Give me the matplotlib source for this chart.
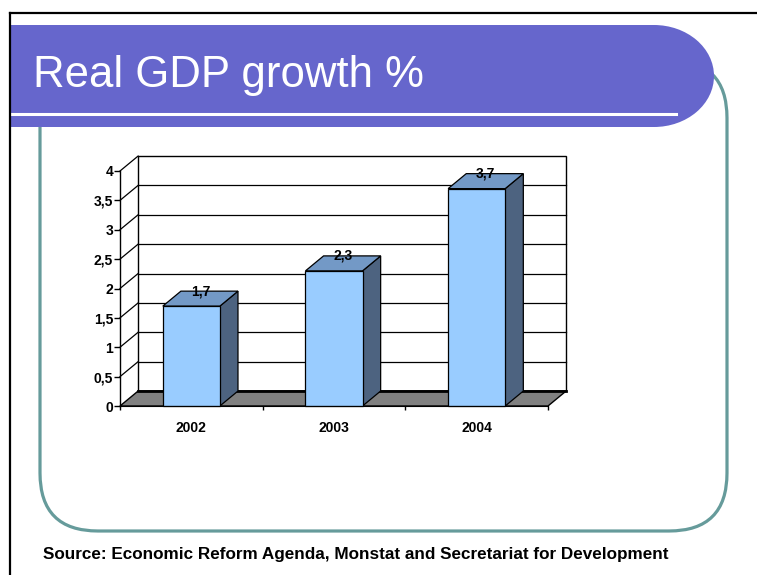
import matplotlib
matplotlib.use("Agg")
import matplotlib.pyplot as plt
from matplotlib.patches import Rectangle, Ellipse, FancyBboxPatch, Polygon

# data
years = ["2002", "2003", "2004"]
growth = [1.7, 2.3, 3.7]
value_labels = ["1,7", "2,3", "3,7"]
y_ticks = [0, 0.5, 1, 1.5, 2, 2.5, 3, 3.5, 4]
y_tick_labels = ["0", "0,5", "1", "1,5", "2", "2,5", "3", "3,5", "4"]

title = "Real GDP growth %"
source = "Source: Economic Reform Agenda, Monstat and Secretariat for Development"

plt.rcParams["font.family"] = ["Liberation Sans", "DejaVu Sans"]

fig = plt.figure(figsize=(7.57, 5.75), dpi=100)

# slide background, in pixel units
bg = fig.add_axes([0, 0, 1, 1])
bg.set_xlim(0, 757)
bg.set_ylim(575, 0)
bg.axis("off")

teal = "#669B9B"
purple = "#6666CC"

frame = FancyBboxPatch((40, 60), 687, 471, boxstyle="round,pad=0,rounding_size=58",
                       facecolor="white", edgecolor=teal, linewidth=2.3)
bg.add_patch(frame)
bg.add_patch(Rectangle((10, 25), 645, 102, facecolor=purple, edgecolor="none"))
bg.add_patch(Ellipse((654, 76), 120, 102, facecolor=purple, edgecolor="none"))
bg.plot([10, 676], [114, 114], color="white", lw=2.2)
bg.plot([10, 757], [13, 13], color="black", lw=1.6)
bg.plot([10, 10], [13, 575], color="black", lw=1.6)

bg.text(33, 87, title, color="white", fontsize=31.5, va="baseline", ha="left")
bg.text(43, 559, source, color="black", fontsize=12.3, fontweight="bold",
        va="baseline", ha="left")

# chart: front plane of the 3d box
ax = fig.add_axes([120 / 757, (575 - 406) / 575, 428 / 757, 235 / 575])
ax.set_xlim(-0.5, 2.5)
ax.set_ylim(0, 4)
ax.patch.set_visible(False)
for s in ["top", "right", "bottom"]:
    ax.spines[s].set_visible(False)
ax.spines["left"].set_linewidth(1)

dx, dy = 0.127, 0.255   # depth offset in data units
x0, x1 = -0.5, 2.5
top = y_ticks[-1]

# back wall and gridlines
ax.add_patch(Rectangle((x0 + dx, dy), x1 - x0, top, facecolor="white",
                       edgecolor="black", lw=1, zorder=1, clip_on=False))
for t in y_ticks[1:-1]:
    ax.plot([x0 + dx, x1 + dx], [t + dy, t + dy], color="black", lw=0.9,
            zorder=2, clip_on=False)
for t in y_ticks[1:]:
    ax.plot([x0, x0 + dx], [t, t + dy], color="black", lw=0.9, zorder=2, clip_on=False)

# floor
ax.add_patch(Polygon([(x0, 0), (x1, 0), (x1 + dx, dy), (x0 + dx, dy)], closed=True,
                     facecolor="#808080", edgecolor="black", lw=1, zorder=3, clip_on=False))
ax.plot([x0 + dx, x1 + dx], [dy, dy], color="black", lw=2, zorder=3, clip_on=False)

# bars
w = 0.4
for i, v in enumerate(growth):
    l, r = i - w / 2, i + w / 2
    ax.add_patch(Polygon([(r, 0), (r + dx, dy), (r + dx, v + dy), (r, v)], closed=True,
                         facecolor="#4D6380", edgecolor="black", lw=0.9, zorder=4,
                         clip_on=False))
    ax.add_patch(Polygon([(l, v), (r, v), (r + dx, v + dy), (l + dx, v + dy)], closed=True,
                         facecolor="#7399C6", edgecolor="black", lw=0.9, zorder=4,
                         clip_on=False))
ax.bar(range(len(years)), growth, width=w, color="#99CCFF", edgecolor="black",
       linewidth=0.9, zorder=5, clip_on=False)

for i, v in enumerate(growth):
    ax.text(i + dx / 2, v + dy, value_labels[i], ha="center", va="center",
            fontsize=10, fontweight="bold", zorder=6)

# axes ticks
ax.set_yticks(y_ticks)
ax.set_yticklabels(y_tick_labels, fontsize=10, fontweight="bold")
ax.tick_params(axis="y", length=4, width=1, pad=1, direction="out")
ax.set_xticks(range(len(years)))
ax.set_xticklabels(years, fontsize=10, fontweight="bold")
ax.set_xticks([x0, 0.5, 1.5, x1], minor=True)
ax.tick_params(axis="x", which="major", length=0, pad=11)
ax.tick_params(axis="x", which="minor", length=3, width=1, direction="out")
ax.spines["bottom"].set_visible(True)
ax.spines["bottom"].set_zorder(6)

fig.savefig("out.png", dpi=100)
